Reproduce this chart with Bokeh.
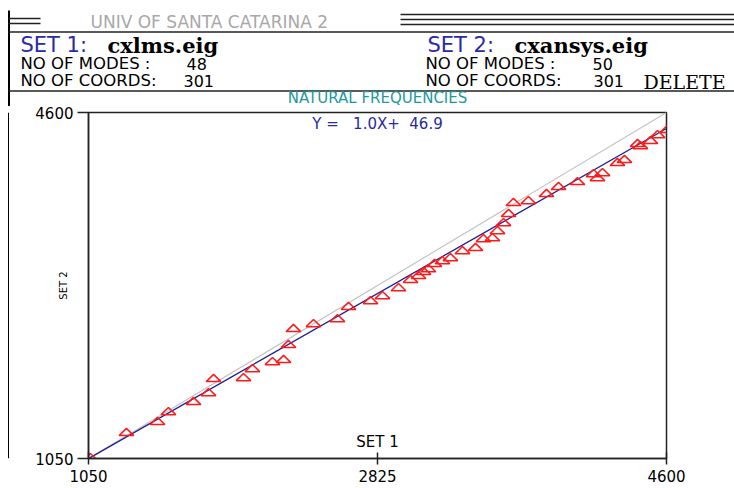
import numpy as np
from bokeh.plotting import figure
from bokeh.models import Range1d, Label, FixedTicker
from bokeh.layouts import column, row
from bokeh.embed import file_html
from bokeh.resources import INLINE
from bokeh.core.properties import value

# ---------------- data ----------------
set1_freq = [1062, 1283, 1474, 1541, 1695, 1787, 1818, 2002, 2057, 2180, 2248, 2278,
             2309, 2432, 2579, 2647, 2782, 2856, 2954, 3028, 3077, 3108, 3138, 3175,
             3224, 3273, 3347, 3427, 3476, 3531, 3562, 3599, 3630, 3660, 3752, 3863,
             3937, 4053, 4152, 4176, 4207, 4299, 4342, 4422, 4440, 4502, 4545, 4605]
set2_freq = [1060, 1317, 1430, 1532, 1635, 1727, 1871, 1881, 1973, 2045, 2066, 2220,
             2384, 2435, 2486, 2610, 2671, 2722, 2804, 2887, 2928, 2969, 2999, 3051,
             3081, 3112, 3184, 3215, 3307, 3317, 3389, 3471, 3564, 3677, 3697, 3769,
             3841, 3892, 3974, 3933, 3984, 4087, 4118, 4282, 4261, 4313, 4374, 4426]
axis_min, axis_max = 1050, 4600
x_ticks = [1050, 2825, 4600]
y_ticks = [1050, 4600]
fit_slope = 0.954
fit_intercept = 46.9
NB = "\u00a0"
fit_label = "Y =" + NB * 3 + "1.0X+" + NB * 2 + "46.9"

sans = "DejaVu Sans"
serif = "DejaVu Serif"

# ---------------- header ----------------
H = 106
hdr = figure(width=734, height=H, x_range=Range1d(0, 734), y_range=Range1d(H, 0),
             x_axis_type=None, y_axis_type=None, min_border=0,
             output_backend="svg", toolbar_location=None)
hdr.outline_line_color = None
hdr.grid.visible = False
hdr.segment(x0=[8.5], y0=[10], x1=[8.5], y1=[H], line_color="black", line_width=2)
hdr.segment(x0=[8, 8, 400, 400, 400, 8, 8], y0=[18, 23, 14, 19, 24, 31.5, 90.5],
            x1=[40, 40, 734, 734, 734, 734, 734], y1=[18, 23, 14, 19, 24, 31.5, 90.5],
            line_color="#222222", line_width=1.5)
hdr.text(x=[90], y=[21], text=["UNIV OF SANTA CATARINA 2"], text_color="#a8a8a8",
         text_font=value(sans), text_font_size="17px", text_baseline="middle")
hdr.text(x=[20, 427], y=[44, 44], text=["SET 1:", "SET 2:"], text_color="#2a2aa8",
         text_font=value(sans), text_font_size="21px", text_baseline="middle")
hdr.text(x=[107, 514], y=[45, 45], text=["cxlms.eig", "cxansys.eig"], text_color="black",
         text_font=value(serif), text_font_style="bold", text_font_size="21px",
         text_baseline="middle")
hdr.text(x=[20, 20, 425, 425], y=[63, 80, 63, 80],
         text=["NO OF MODES :", "NO OF COORDS:", "NO OF MODES :", "NO OF COORDS:"],
         text_color="black", text_font=value(sans), text_font_size="16.5px", text_baseline="middle")
hdr.text(x=[186, 183, 592, 593], y=[63, 80, 63, 80], text=["48", "301", "50", "301"],
         text_color="black", text_font=value(sans), text_font_size="16px", text_baseline="middle")
hdr.text(x=[643], y=[81], text=["DELETE"], text_color="black",
         text_font=value(serif), text_font_size="19px", text_baseline="middle")
hdr.text(x=[377], y=[97], text=["NATURAL FREQUENCIES"], text_color="#1e9a9a",
         text_font=value(sans), text_font_size="15px", text_baseline="middle", text_align="center")

# ---------------- left strip ----------------
MH = 488 - H
strip = figure(width=9, height=MH, x_range=Range1d(0, 9), y_range=Range1d(0, MH),
               x_axis_type=None, y_axis_type=None, min_border=0,
               output_backend="svg", toolbar_location=None)
strip.outline_line_color = None
strip.grid.visible = False
strip.segment(x0=[8.5], y0=[0], x1=[8.5], y1=[MH], line_color="black", line_width=2)

# ---------------- main plot ----------------
p = figure(width=725, height=MH, x_range=Range1d(axis_min, axis_max),
           y_range=Range1d(axis_min, axis_max),
           min_border_left=79, min_border_right=68, min_border_top=6, min_border_bottom=30,
           output_backend="svg", toolbar_location=None)
p.grid.visible = False
p.outline_line_color = "#222222"
p.outline_line_width = 1.5

for ax in (p.xaxis[0], p.yaxis[0]):
    ax.axis_line_color = "#222222"
    ax.axis_line_width = 1.5
    ax.major_tick_line_color = "#222222"
    ax.major_tick_line_width = 1.5
    ax.minor_tick_line_color = None
    ax.major_label_text_font = sans
    ax.major_label_text_font_size = "15px"
    ax.major_label_text_color = "black"

p.xaxis.ticker = FixedTicker(ticks=x_ticks)
p.xaxis.major_tick_in = 6
p.xaxis.major_tick_out = 6
p.xaxis.major_label_standoff = 5

p.yaxis.ticker = FixedTicker(ticks=y_ticks)
p.yaxis.major_tick_in = 0
p.yaxis.major_tick_out = 11
p.yaxis.major_label_standoff = 4
p.yaxis.axis_label = "SET 2"
p.yaxis.axis_label_text_font = sans
p.yaxis.axis_label_text_font_style = "normal"
p.yaxis.axis_label_text_font_size = "10px"
p.yaxis.axis_label_text_color = "black"
p.yaxis.axis_label_standoff = -37

# diagonal reference
p.line(x=[axis_min, axis_max], y=[axis_min, axis_max], line_color="#c4c4c4", line_width=1.2)
# fit line
fx = np.array([axis_min, axis_max], dtype=float)
p.line(x=fx, y=fit_slope * fx + fit_intercept, line_color="#1c1c90", line_width=1.3)

# triangles (flattened, open) built from the data points
xs = np.array(set1_freq, dtype=float)
ys = np.array(set2_freq, dtype=float)
dx, dy_lo, dy_hi = 45.0, 32.0, 42.0
tri_x = [[x - dx, x + dx, x] for x in xs]
tri_y = [[y - dy_lo, y - dy_lo, y + dy_hi] for y in ys]
p.patches(xs=tri_x, ys=tri_y, fill_color=None, line_color="#ff1a1a", line_width=1.5)

p.add_layout(Label(x=2825, y=4487, text=fit_label, text_color="#2a2aa0",
                   text_font=sans, text_font_size="15px", text_align="center",
                   text_baseline="middle"))
p.add_layout(Label(x=2825, y=1224, text="SET 1", text_color="black",
                   text_font=sans, text_font_size="15px", text_align="center",
                   text_baseline="middle"))

layout = column(hdr, row(strip, p, spacing=0), spacing=0)
open("out.html", "w").write(file_html(layout, INLINE))
